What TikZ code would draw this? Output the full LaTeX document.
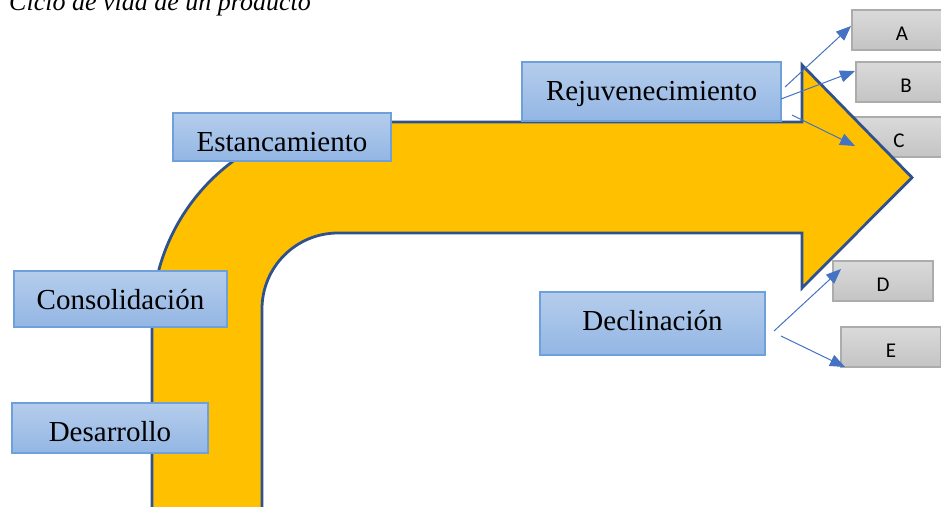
\documentclass[tikz,border=0pt]{standalone}
\usepackage{fontspec}
\setmainfont{Liberation Serif}
\newfontfamily\calib{Carlito}
\usetikzlibrary{arrows.meta}
\definecolor{btop}{RGB}{181,205,236}
\definecolor{bbot}{RGB}{147,182,228}
\definecolor{bborder}{RGB}{110,160,220}
\definecolor{gtop}{RGB}{218,218,218}
\definecolor{gbot}{RGB}{196,196,196}
\definecolor{gborder}{RGB}{172,172,172}
\definecolor{arrfill}{RGB}{255,192,0}
\definecolor{arrline}{RGB}{47,82,143}
\definecolor{conncol}{RGB}{68,114,196}
\tikzset{
  bluebox/.style={draw=bborder, line width=1.2pt, top color=btop, bottom color=bbot,
    inner sep=0pt, text depth=0pt, font=\fontsize{29}{34}\selectfont},
  graybox/.style={draw=gborder, line width=1.5pt, top color=gtop, bottom color=gbot,
    minimum width=100, minimum height=40, inner sep=0pt, text depth=0pt, text height=20,
    font=\calib\fontsize{21}{25}\selectfont},
  bigarrow/.style={fill=arrfill, draw=arrline, line width=2.8pt, line join=miter},
  conn/.style={draw=conncol, line width=1pt, -{Triangle[length=15,width=12]}}
}
\begin{document}
\begin{tikzpicture}[x=1pt,y=-1pt]
\useasboundingbox (0,0) rectangle (941,506);
% gray boxes (behind the arrow)
\node[graybox] (A) at (902,30) {A};
\node[graybox] (B) at (906,82) {B};
\node[graybox] (C) at (899,137) {C};
\node[graybox] (D) at (883,281) {D};
\node[graybox] (E) at (891,347) {E};
% big bent arrow
\path[bigarrow] (152,515) -- (152,322)
  .. controls (152,211.5) and (241.5,122) .. (352,122)
  -- (802,122) -- (802,65) -- (912,177.5) -- (802,288) -- (802,233)
  -- (338,233) .. controls (296,233) and (262,267) .. (262,309)
  -- (262,515) -- cycle;
% title
\node[anchor=base west, inner sep=0pt, font=\itshape\fontsize{26}{30}\selectfont] (title) at (9,10) {Ciclo de vida de un producto};
% blue boxes
\node[bluebox, minimum width=196, minimum height=50, text height=26] (des) at (110,428) {Desarrollo};
\node[bluebox, minimum width=213, minimum height=56, text height=20] (con) at (120.5,299) {Consolidación};
\node[bluebox, minimum width=218, minimum height=48, text height=28] (est) at (282,137) {Estancamiento};
\node[bluebox, minimum width=259, minimum height=59, text height=17] (rej) at (651.5,91.5) {Rejuvenecimiento};
\node[bluebox, minimum width=225, minimum height=63, text height=13] (dec) at (652.5,323.5) {Declinación};
% connector ends
\coordinate (sA) at (785,87);
\coordinate (sB) at (781,99);
\coordinate (sC) at (792,115);
\coordinate (sD) at (774,331);
\coordinate (sE) at (781,336);
\coordinate (eA) at (851,26);
\coordinate (eB) at (855,71);
\coordinate (eC) at (855,146);
\coordinate (eD) at (841,269);
\coordinate (eE) at (845,367);
\draw[conn] (sA) -- (eA);
\draw[conn] (sB) -- (eB);
\draw[conn] (sC) -- (eC);
\draw[conn] (sD) -- (eD);
\draw[conn] (sE) -- (eE);
\end{tikzpicture}
\end{document}
